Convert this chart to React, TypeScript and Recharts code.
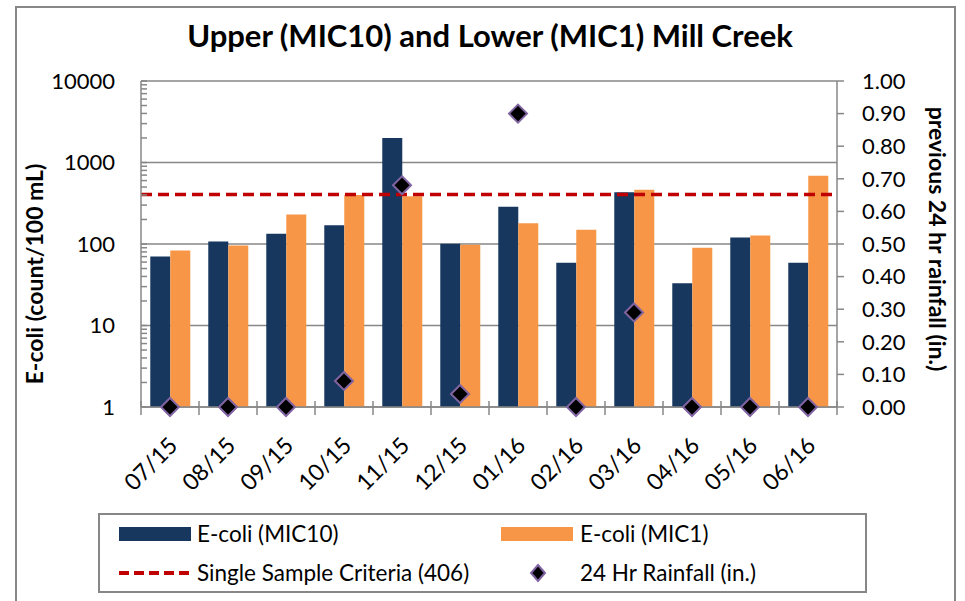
import React from 'react';
import { ComposedChart, Bar, Line, XAxis, YAxis, CartesianGrid, ReferenceLine } from 'recharts';

const months = ['07/15', '08/15', '09/15', '10/15', '11/15', '12/15', '01/16', '02/16', '03/16', '04/16', '05/16', '06/16'];
const ecoliMIC10 = [70, 107, 134, 170, 2000, 101, 287, 59, 430, 33, 120, 59];
const ecoliMIC1 = [83, 96, 230, 400, 385, 98, 180, 150, 464, 90, 127, 690];
const rainfall = [0, 0, 0, 0.08, 0.68, 0.04, 0.9, 0, 0.29, 0, 0, 0];
const criteria = 406;
const leftTicks = [1, 10, 100, 1000, 10000];
const minorTicks = [1, 2, 3, 4, 5, 6, 7, 8, 9, 10, 20, 30, 40, 50, 60, 70, 80, 90, 100, 200, 300, 400, 500, 600, 700, 800, 900, 1000, 2000, 3000, 4000, 5000, 6000, 7000, 8000, 9000, 10000];
const rightTicks = [0, 0.1, 0.2, 0.3, 0.4, 0.5, 0.6, 0.7, 0.8, 0.9, 1.0];

const data = months.map((m, i) => ({
  month: m,
  mic10: ecoliMIC10[i],
  mic1: ecoliMIC1[i],
  rain: rainfall[i],
}));

const FONT = 'Lato, "Open Sans", sans-serif';
const GRAY = '#878787';
const NAVY = '#17375e';
const ORANGE = '#f79646';
const RED = '#c00000';
const PURPLE = '#8064a2';
const LEFT_TICK_MARGIN = 26;

const XTick = (props: any) => {
  const { x, y, payload, index } = props;
  const off = payload && typeof payload.offset === 'number' ? payload.offset : 29;
  const tx = x + 9;
  const ty = y + 40;
  return (
    <g>
      <line x1={x - off} x2={x - off} y1={y - 6} y2={y + 8} stroke={GRAY} strokeWidth={1.5} />
      {index === months.length - 1 && (
        <line x1={x + off} x2={x + off} y1={y - 6} y2={y + 8} stroke={GRAY} strokeWidth={1.5} />
      )}
      <text x={tx} y={ty} transform={`rotate(-45 ${tx} ${ty})`} textAnchor="end" fontSize={23} fontFamily={FONT} fill="#000">
        {payload.value}
      </text>
    </g>
  );
};

const LeftTick = (props: any) => {
  const { x, y, payload } = props;
  const ax = x + LEFT_TICK_MARGIN;
  const isMajor = leftTicks.includes(payload.value);
  return (
    <g>
      <line x1={ax} x2={ax + 6} y1={y} y2={y} stroke={GRAY} strokeWidth={1.5} />
      {isMajor && (
        <text x={x} y={y} dy="0.36em" textAnchor="end" fontSize={22} fontFamily={FONT} fill="#000">
          {payload.value}
        </text>
      )}
    </g>
  );
};

const Diamond = (p: any) => {
  const { cx, cy, index } = p;
  if (cx == null || cy == null) return <g key={index} />;
  const s = 9;
  return (
    <polygon
      key={index}
      points={`${cx},${cy - s} ${cx + s},${cy} ${cx},${cy + s} ${cx - s},${cy}`}
      fill="#000"
      stroke={PURPLE}
      strokeWidth={2}
    />
  );
};

export default function App() {
  return (
    <div style={{ position: 'absolute', left: 0, top: 0, width: 965, height: 601, background: '#fff', overflow: 'hidden' }}>
      <div style={{ position: 'absolute', left: 15, top: 6, width: 941, height: 640, border: `2px solid ${GRAY}`, boxSizing: 'border-box' }} />
      <div style={{ position: 'absolute', left: 0, top: 0 }}>
        <ComposedChart
          width={965}
          height={601}
          data={data}
          margin={{ top: 81, right: 0, bottom: 0, left: 0 }}
          barCategoryGap="16%"
          barGap={0}
        >
          <CartesianGrid yAxisId="grid" vertical={false} stroke={GRAY} strokeWidth={1.5} />
          <XAxis
            dataKey="month"
            height={194}
            interval={0}
            tickSize={0}
            tickMargin={0}
            tickLine={false}
            axisLine={{ stroke: GRAY, strokeWidth: 1.5 }}
            tick={<XTick />}
          />
          <YAxis
            yAxisId="left"
            type="number"
            scale="log"
            domain={[1, 10000]}
            allowDataOverflow
            ticks={minorTicks}
            interval={0}
            width={141}
            tickSize={0}
            tickMargin={LEFT_TICK_MARGIN}
            tickLine={false}
            axisLine={{ stroke: GRAY, strokeWidth: 1.5 }}
            tick={<LeftTick />}
          />
          <YAxis
            yAxisId="grid"
            type="number"
            scale="log"
            domain={[1, 10000]}
            allowDataOverflow
            ticks={leftTicks}
            interval={0}
            width={0}
            hide
          />
          <YAxis
            yAxisId="right"
            orientation="right"
            type="number"
            domain={[0, 1]}
            ticks={rightTicks}
            interval={0}
            width={128}
            tickSize={7}
            tickMargin={18}
            tickFormatter={(v: number) => v.toFixed(2)}
            tickLine={{ stroke: GRAY, strokeWidth: 1.5 }}
            axisLine={{ stroke: GRAY, strokeWidth: 1.5 }}
            tick={{ fontSize: 22, fontFamily: FONT, fill: '#000' }}
          />
          <Bar yAxisId="left" dataKey="mic10" fill={NAVY} isAnimationActive={false} />
          <Bar yAxisId="left" dataKey="mic1" fill={ORANGE} isAnimationActive={false} />
          <ReferenceLine yAxisId="left" y={criteria} stroke={RED} strokeWidth={3.5} strokeDasharray="11 6" />
          <Line
            yAxisId="right"
            dataKey="rain"
            stroke="none"
            dot={Diamond}
            activeDot={false}
            isAnimationActive={false}
          />
        </ComposedChart>
      </div>
      <svg width={965} height={601} style={{ position: 'absolute', left: 0, top: 0, pointerEvents: 'none' }}>
        <text x={490} y={47} textAnchor="middle" fontSize={31} fontWeight={700} fontFamily={FONT} fill="#000">
          Upper (MIC10) and Lower (MIC1) Mill Creek
        </text>
        <text
          x={43}
          y={274}
          transform="rotate(-90 43 274)"
          textAnchor="middle"
          fontSize={23}
          fontWeight={700}
          fontFamily={FONT}
          fill="#000"
        >
          E-coli (count/100 mL)
        </text>
        <text
          x={929}
          y={239}
          transform="rotate(90 929 239)"
          textAnchor="middle"
          fontSize={23}
          fontWeight={700}
          fontFamily={FONT}
          fill="#000"
        >
          previous 24 hr rainfall (in.)
        </text>
      </svg>
      <div
        style={{
          position: 'absolute',
          left: 98,
          top: 513,
          width: 769,
          height: 80,
          border: `2px solid ${GRAY}`,
          boxSizing: 'border-box',
          fontFamily: FONT,
          fontSize: 22.5,
          color: '#000',
        }}
      >
        <div style={{ position: 'absolute', left: 19, top: 12, width: 72, height: 14, background: NAVY }} />
        <div style={{ position: 'absolute', left: 97, top: 4, lineHeight: '30px' }}>E-coli (MIC10)</div>
        <div style={{ position: 'absolute', left: 401, top: 12, width: 72, height: 14, background: ORANGE }} />
        <div style={{ position: 'absolute', left: 480, top: 4, lineHeight: '30px' }}>E-coli (MIC1)</div>
        <svg style={{ position: 'absolute', left: 17, top: 52 }} width={76} height={12}>
          <line x1={2} x2={74} y1={6} y2={6} stroke={RED} strokeWidth={4} strokeDasharray="10 5" />
        </svg>
        <div style={{ position: 'absolute', left: 97, top: 43, lineHeight: '30px' }}>Single Sample Criteria (406)</div>
        <svg style={{ position: 'absolute', left: 428, top: 48 }} width={20} height={20}>
          <polygon points="10,2 17,10 10,18 3,10" fill="#000" stroke={PURPLE} strokeWidth={2} />
        </svg>
        <div style={{ position: 'absolute', left: 480, top: 43, lineHeight: '30px' }}>24 Hr Rainfall (in.)</div>
      </div>
    </div>
  );
}
